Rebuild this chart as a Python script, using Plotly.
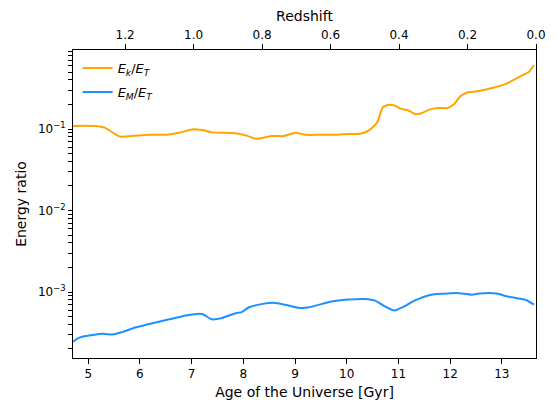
import plotly.graph_objects as go

# Age of the Universe [Gyr] and energy ratios
age_k = [4.706, 4.94, 5.13, 5.32, 5.61, 5.90, 6.18, 6.51, 6.76, 7.01, 7.20, 7.39, 7.85, 8.07,
         8.24, 8.55, 8.78, 9.01, 9.20, 9.51, 9.83, 10.02, 10.22, 10.37, 10.51, 10.60, 10.70,
         10.83, 10.93, 11.04, 11.18, 11.33, 11.43, 11.60, 11.76, 11.95, 12.08, 12.19, 12.33,
         12.52, 12.85, 13.10, 13.35, 13.52, 13.62]
ek_et = [0.109, 0.110, 0.109, 0.104, 0.081, 0.083, 0.085, 0.085, 0.090, 0.099, 0.097, 0.091,
         0.089, 0.083, 0.076, 0.082, 0.082, 0.090, 0.085, 0.085, 0.085, 0.087, 0.087, 0.092,
         0.106, 0.125, 0.186, 0.199, 0.194, 0.178, 0.170, 0.152, 0.155, 0.173, 0.181, 0.181,
         0.203, 0.250, 0.281, 0.290, 0.323, 0.364, 0.440, 0.500, 0.610]

age_m = [4.706, 4.80, 4.90, 5.28, 5.47, 5.67, 5.93, 6.24, 6.57, 6.89, 7.20, 7.39, 7.59, 7.85,
         7.97, 8.10, 8.35, 8.62, 8.87, 9.06, 9.25, 9.70, 10.02, 10.35, 10.56, 10.73, 10.92,
         11.11, 11.30, 11.61, 11.88, 12.13, 12.42, 12.57, 12.90, 13.09, 13.29, 13.48, 13.62]
em_et = [2.45e-4, 2.7e-4, 2.85e-4, 3.07e-4, 3.0e-4, 3.24e-4, 3.69e-4, 4.13e-4, 4.62e-4, 5.16e-4,
         5.37e-4, 4.62e-4, 4.8e-4, 5.5e-4, 5.67e-4, 6.45e-4, 7.1e-4, 7.35e-4, 6.83e-4, 6.4e-4,
         6.45e-4, 7.63e-4, 8.07e-4, 8.2e-4, 7.78e-4, 6.7e-4, 5.93e-4, 6.64e-4, 7.78e-4, 9.2e-4,
         9.54e-4, 9.7e-4, 9.27e-4, 9.6e-4, 9.6e-4, 8.87e-4, 8.4e-4, 7.93e-4, 7.0e-4]

age_ticks = [5, 6, 7, 8, 9, 10, 11, 12, 13]
z_ticks = [1.2, 1.0, 0.8, 0.6, 0.4, 0.2, 0.0]
z_labels = ["1.2", "1.0", "0.8", "0.6", "0.4", "0.2", "0.0"]
y_major = [1e-3, 1e-2, 1e-1]
y_major_labels = ["10<sup>−3</sup>", "10<sup>−2</sup>", "10<sup>−1</sup>"]
y_minor = [m * 10.0 ** e for e in (-4, -3, -2, -1) for m in range(2, 10)]

age_range = [4.706, 13.66]
z_range = [1.352, 0.0]
y_range_log = [-3.81, -0.03]

# all y ticks: majors labelled, minors unlabelled
y_tickvals = y_major + y_minor
y_ticktext = y_major_labels + ["" for _ in y_minor]

font = dict(family="DejaVu Sans", size=12, color="black")

fig = go.Figure()
fig.add_trace(go.Scatter(x=age_k, y=ek_et, mode="lines", legendgroup="k",
                         line=dict(color="orange", width=2, shape="spline", smoothing=0.6),
                         name="<i>E<sub>k</sub></i>/<i>E<sub>T</sub></i>"))
fig.add_trace(go.Scatter(x=age_m, y=em_et, mode="lines", legendgroup="m",
                         line=dict(color="dodgerblue", width=2, shape="spline", smoothing=0.6),
                         name="<i>E<sub>M</sub></i>/<i>E<sub>T</sub></i>"))
fig.add_trace(go.Scatter(x=z_range, y=[1e-2, 1e-2], xaxis="x2", mode="lines",
                         line=dict(width=0), opacity=0, showlegend=False, hoverinfo="skip"))

fig.update_layout(
    width=558, height=411,
    margin=dict(l=73, r=20, t=50, b=53),
    paper_bgcolor="white", plot_bgcolor="white",
    font=font,
    showlegend=True,
    legend=dict(x=0.01, y=0.99, xanchor="left", yanchor="top", bgcolor="rgba(0,0,0,0)",
                font=dict(family="DejaVu Sans", size=13), tracegroupgap=4),
    xaxis=dict(range=age_range, tickmode="array", tickvals=age_ticks,
               showline=True, linecolor="black", linewidth=1, mirror=False,
               ticks="outside", ticklen=5, tickcolor="black", showgrid=False, zeroline=False,
               title=dict(text="Age of the Universe [Gyr]", standoff=6)),
    xaxis2=dict(range=z_range, overlaying="x", side="top", tickmode="array",
                tickvals=z_ticks, ticktext=z_labels, showline=True, linecolor="black",
                linewidth=1, ticks="outside", ticklen=5, tickcolor="black",
                showgrid=False, zeroline=False, title=dict(text="Redshift", standoff=3)),
    yaxis=dict(type="log", range=y_range_log, tickmode="array", tickvals=y_tickvals,
               ticktext=y_ticktext, showline=True, linecolor="black", linewidth=1,
               mirror=True, ticks="outside", ticklen=4, tickcolor="black", showgrid=False,
               zeroline=False, title=dict(text="Energy ratio", standoff=8)),
)

fig.write_html("out.html")
